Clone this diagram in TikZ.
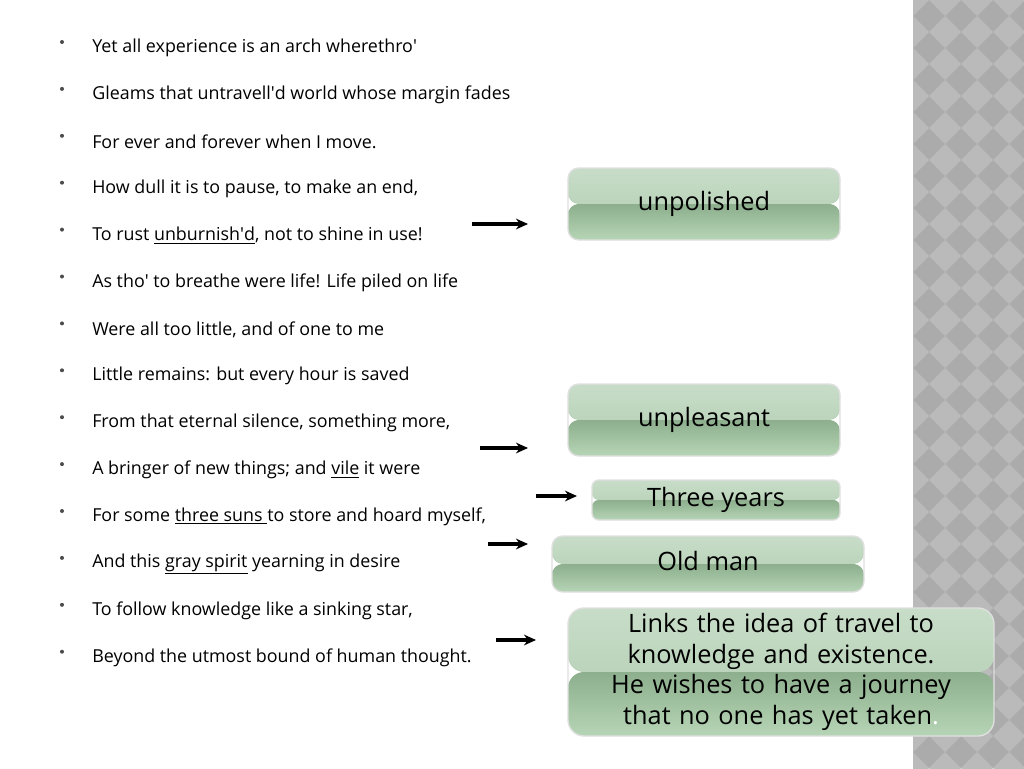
\documentclass[tikz,border=0pt]{standalone}
\usepackage{fontspec}
\setmainfont{Open Sans}
\usetikzlibrary{arrows.meta}
\definecolor{gA}{HTML}{C8DDC8}
\definecolor{gB}{HTML}{AECBAE}
\definecolor{gC}{HTML}{8DAF8D}
\definecolor{gD}{HTML}{B6D5B6}
\newcommand\q{\textquotesingle}
\begin{document}
\begin{tikzpicture}[x=0.75pt,y=-0.75pt,
  line/.style={anchor=west,font=\fontsize{13.4}{15}\selectfont,inner sep=0},
  bul/.style={circle,fill=black!70,inner sep=0,minimum size=3pt},
  gbox/.style={rounded corners=8pt,draw=black!12,line width=1pt,
    path picture={
      \shade[top color=gA, bottom color=gB]
        (path picture bounding box.north west) rectangle (path picture bounding box.east);
      \shade[top color=gC, bottom color=gD]
        (path picture bounding box.west) rectangle (path picture bounding box.south east);
    },
    font=\fontsize{19}{23}\selectfont, align=center},
  arr/.style={-{Stealth[length=9pt,width=8pt]},line width=2.4pt}]
\useasboundingbox (0,0) rectangle (1024,768);
\fill[white] (0,0) rectangle (1024,768);
\begin{scope}
\clip (913,0) rectangle (1024,768);
\fill[black!33] (913,0) rectangle (1024,768);
\foreach \i in {0,...,6}{\foreach \j in {0,...,26}{
  \fill[black!27] ({913+\i*32},{\j*32-16}) -- ++(16,16) -- ++(-16,16) -- ++(-16,-16) -- cycle;}}
\end{scope}
\foreach [count=\k from 0] \t in {
 {Yet all experience is an arch wherethro\q},
 {Gleams that untravell\q d world whose margin fades},
 {For ever and forever when I move.},
 {How dull it is to pause, to make an end,},
 {To rust \underline{unburnish\q d}, not to shine in use!},
 {As tho\q\ to breathe were life! Life piled on life},
 {Were all too little, and of one to me},
 {Little remains: but every hour is saved},
 {From that eternal silence, something more,},
 {A bringer of new things; and \underline{vile} it were},
 {For some \underline{three suns }to store and hoard myself,},
 {And this \underline{gray spirit} yearning in desire},
 {To follow knowledge like a sinking star,},
 {Beyond the utmost bound of human thought.}}{
  \node[bul] (b\k) at (62,{42+46.9*\k}) {};
  \node[line] (l\k) at (92,{48+46.9*\k}) {\t};
}
\node[gbox,minimum width=272*0.75pt,minimum height=72*0.75pt] (unp) at (704,204) {\raisebox{4pt}{unpolished}};
\node[gbox,minimum width=272*0.75pt,minimum height=72*0.75pt] (unpl) at (704,420) {\raisebox{4pt}{unpleasant}};
\node[gbox,minimum width=248*0.75pt,minimum height=40*0.75pt,rounded corners=5pt] (three) at (716,500) {\raisebox{2pt}{Three years}};
\node[gbox,minimum width=312*0.75pt,minimum height=56*0.75pt] (old) at (708,564) {\raisebox{4pt}{Old man}};
\node[gbox,minimum width=426*0.75pt,minimum height=128*0.75pt,text width=305pt,inner sep=1pt,rounded corners=12pt] (links) at (781,672) {Links the idea of travel to knowledge and existence. He wishes to have a journey that no one has yet taken\textcolor{white}{.}};
\coordinate (a1) at (472,224); \coordinate (e1) at (528,224);
\coordinate (a2) at (480,448); \coordinate (e2) at (528,448);
\coordinate (a3) at (536,496); \coordinate (e3) at (577,496);
\coordinate (a4) at (488,544); \coordinate (e4) at (528,544);
\coordinate (a5) at (496,640); \coordinate (e5) at (536,640);
\foreach \n in {1,...,5}{\draw[arr] (a\n) -- (e\n);}
\end{tikzpicture}
\end{document}
